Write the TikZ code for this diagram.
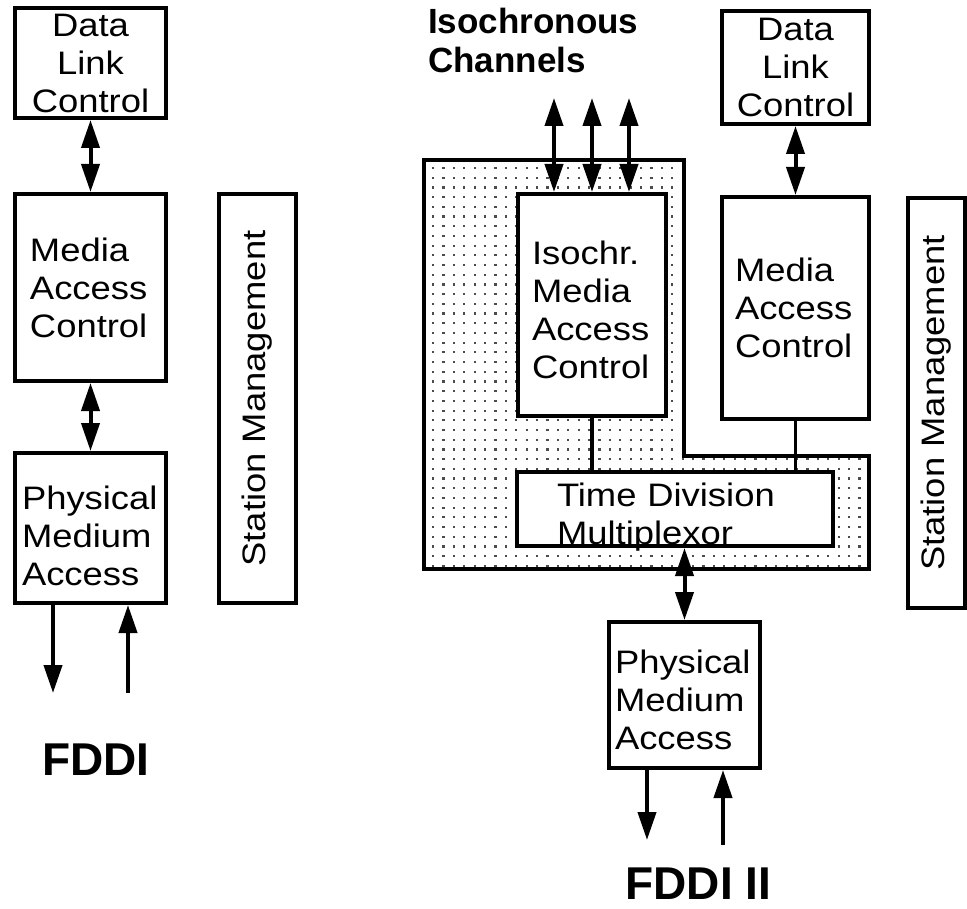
\documentclass[tikz,border=0pt]{standalone}
\usepackage{fontspec}
\setmainfont{Liberation Sans}[FakeStretch=1.12]
\newfontfamily\titlefont{Liberation Sans}
\usetikzlibrary{arrows.meta}
\begin{document}
\begin{tikzpicture}[x=1pt,y=-1pt,
  >={Triangle[length=28pt,width=18pt]},
  box/.style={draw, line width=4pt, fill=white, inner sep=0pt,
    font=\fontsize{32.5}{38}\selectfont},
  biarr/.style={line width=4pt,<->},
  onearr/.style={line width=4pt,->},
  conn/.style={line width=3.5pt},
  region/.style={line width=3.5pt},
  dotc/.style={fill=black!70},
  bigtitle/.style={inner sep=0pt, font=\titlefont\bfseries\fontsize{46}{50}\selectfont},
  chtitle/.style={inner sep=0pt, align=left, font=\titlefont\bfseries\fontsize{35}{39}\selectfont}]
\useasboundingbox (0,0) rectangle (967,909);
\fill[white] (0,0) rectangle (967,909);

% ---------- FDDI (left) ----------
\node[box, align=center, text depth=-5pt, minimum width=151pt, minimum height=110pt] (dlcA) at (90.5,63) {Data\\Link\\Control};
\node[box, align=left, text width=121pt, inner xsep=15pt, minimum width=151pt, minimum height=187pt] (macA) at (90.5,287.5) {Media\\Access\\Control};
\node[box, align=left, text depth=60pt, text width=137pt, inner xsep=7pt, minimum width=151pt, minimum height=150pt] (pmaA) at (90.5,528) {Physical\\Medium\\Access};
\node[box, rotate=90, minimum width=409pt, minimum height=77pt] (smA) at (257.5,398.5) {Station Management};

\draw[biarr] (dlcA.south) -- (macA.north);
\draw[biarr] (macA.south) -- (pmaA.north);
\coordinate (outA) at (53,693);
\coordinate (inA) at (128,693);
\draw[onearr] (pmaA.south -| outA) -- (outA);
\draw[onearr] (inA) -- (pmaA.south -| inA);
\node[bigtitle] (fddiA) at (96,759.5) {FDDI};

% ---------- FDDI II (right) ----------
\begin{scope}
  \clip (424,160) -- (684,160) -- (684,456) -- (869,456) -- (869,569) -- (424,569) -- cycle;
  \foreach \i in {0,...,42} {
    \foreach \j in {0,...,41} {
      \fill[dotc] (432+\i*10.4,167+\j*9.7) rectangle +(2.2,2.2);
    }
  }
\end{scope}
\draw[region] (424,160) -- (684,160) -- (684,456) -- (869,456) -- (869,569) -- (424,569) -- cycle;

\node[chtitle, anchor=north west] (iso) at (428,8) {Isochronous\\Channels};

\node[box, align=left, text depth=104pt, text width=120pt, inner xsep=14pt, minimum width=148pt, minimum height=222pt] (imac) at (592,305) {Isochr.\\Media\\Access\\Control};
\node[box, align=left, text depth=29pt, text width=236pt, inner xsep=40pt, minimum width=316pt, minimum height=74pt] (tdm) at (675,509) {Time Division\\Multiplexor};
\node[box, align=center, text depth=-10pt, minimum width=147pt, minimum height=113pt] (dlcB) at (795.5,67.5) {Data\\Link\\Control};
\node[box, align=left, text width=121pt, inner xsep=13pt, minimum width=147pt, minimum height=222pt] (macB) at (795.5,308) {Media\\Access\\Control};
\node[box, align=left, text depth=66pt, text width=139pt, inner xsep=6pt, minimum width=151pt, minimum height=146pt] (pmaB) at (684.5,695) {Physical\\Medium\\Access};
\node[box, rotate=90, minimum width=410pt, minimum height=57pt] (smB) at (936.5,403) {Station Management};

\coordinate (ch1) at (554,98);
\coordinate (ch2) at (592,98);
\coordinate (ch3) at (629,98);
\draw[biarr] (imac.north -| ch1) -- (ch1);
\draw[biarr] (imac.north -| ch2) -- (ch2);
\draw[biarr] (imac.north -| ch3) -- (ch3);

\draw[conn] (imac.south) -- (imac.south |- tdm.north);
\draw[conn] (macB.south) -- (macB.south |- tdm.north);
\draw[biarr] (dlcB.south) -- (macB.north);
\draw[biarr] (tdm.south -| pmaB.north) -- (pmaB.north);

\coordinate (outB) at (647,840);
\coordinate (inB) at (723,845);
\draw[onearr] (pmaB.south -| outB) -- (outB);
\draw[onearr] (inB) -- (pmaB.south -| inB);
\node[bigtitle] (fddiB) at (698.5,884) {FDDI II};
\end{tikzpicture}
\end{document}
